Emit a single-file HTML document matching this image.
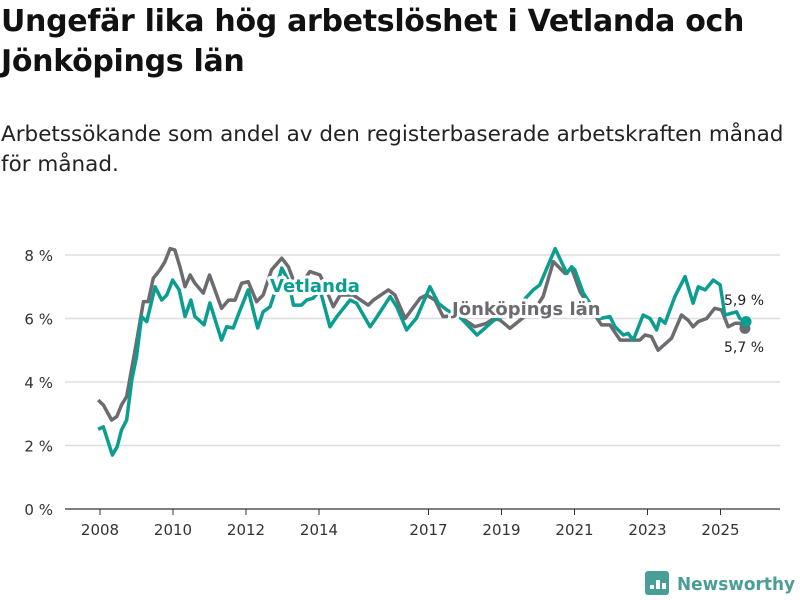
<!DOCTYPE html>
<html><head><meta charset="utf-8"><style>
body{margin:0;background:#fff;width:800px;height:600px;overflow:hidden;font-family:"DejaVu Sans","Liberation Sans",sans-serif;}
#title{position:absolute;left:1px;top:2px;font-size:30px;font-weight:bold;line-height:40px;color:#111;width:795px;letter-spacing:-0.3px}
#sub{position:absolute;left:1px;top:120px;font-size:21.5px;line-height:30px;color:#222;width:798px}
svg{position:absolute;left:0;top:0}
</style></head><body>
<div id="title">Ungefär lika hög arbetslöshet i Vetlanda och Jönköpings län</div>
<div id="sub">Arbetssökande som andel av den registerbaserade arbetskraften månad för månad.</div>
<svg id="chart" width="800" height="600"></svg>
<script>
const vetDates=[2007.95,2008.09,2008.34,2008.47,2008.59,2008.73,2008.87,2009.0,2009.14,2009.28,2009.51,2009.69,2009.83,2009.99,2010.17,2010.33,2010.49,2010.6,2010.71,2010.85,2011.01,2011.33,2011.47,2011.65,2011.84,2012.06,2012.32,2012.47,2012.66,2012.84,2012.98,2013.16,2013.3,2013.52,2013.66,2013.84,2014.03,2014.3,2014.49,2014.85,2015.03,2015.4,2015.53,2015.95,2016.13,2016.4,2016.67,2017.04,2017.27,2017.5,2017.9,2018.33,2018.8,2019.3,2019.87,2020.05,2020.47,2020.79,2020.92,2021.01,2021.24,2021.7,2021.97,2022.11,2022.34,2022.47,2022.61,2022.88,2023.07,2023.25,2023.34,2023.48,2023.75,2024.03,2024.25,2024.39,2024.58,2024.8,2024.99,2025.12,2025.44,2025.53,2025.7];
const vetValues=[2.51,2.59,1.7,1.96,2.49,2.8,4.06,4.8,6.06,5.9,7.0,6.58,6.74,7.21,6.9,6.06,6.58,6.06,5.95,5.8,6.49,5.32,5.74,5.7,6.27,6.9,5.7,6.21,6.37,7.0,7.59,7.2,6.42,6.42,6.58,6.64,6.9,5.74,6.06,6.58,6.48,5.74,5.95,6.69,6.37,5.64,6.01,7.0,6.48,6.27,6.0,5.48,5.95,6.2,6.9,7.06,8.2,7.42,7.63,7.53,6.8,6.0,6.06,5.74,5.48,5.53,5.32,6.11,6.0,5.64,6.0,5.85,6.69,7.32,6.48,7.0,6.9,7.21,7.06,6.11,6.21,6.0,5.9];
const jkpDates=[2007.95,2008.09,2008.32,2008.46,2008.59,2008.73,2008.96,2009.19,2009.32,2009.46,2009.64,2009.78,2009.92,2010.05,2010.19,2010.33,2010.47,2010.6,2010.83,2011.0,2011.33,2011.52,2011.7,2011.88,2012.06,2012.29,2012.47,2012.7,2012.98,2013.16,2013.4,2013.75,2014.03,2014.39,2014.58,2014.94,2015.35,2015.49,2015.9,2016.08,2016.36,2016.77,2016.95,2017.18,2017.4,2017.8,2018.27,2018.59,2018.79,2018.96,2019.23,2019.51,2019.96,2020.14,2020.42,2020.74,2020.92,2021.15,2021.65,2021.74,2021.97,2022.25,2022.79,2022.93,2023.11,2023.29,2023.66,2023.93,2024.11,2024.25,2024.39,2024.62,2024.84,2025.03,2025.21,2025.4,2025.53,2025.67];
const jkpValues=[3.43,3.28,2.8,2.91,3.28,3.54,5.0,6.53,6.53,7.27,7.53,7.79,8.2,8.16,7.63,7.0,7.37,7.11,6.8,7.37,6.32,6.58,6.58,7.11,7.16,6.53,6.74,7.53,7.9,7.63,6.9,7.48,7.37,6.37,6.74,6.74,6.42,6.58,6.9,6.74,6.0,6.64,6.74,6.58,6.06,6.1,5.74,5.85,6.0,5.95,5.69,5.95,6.37,6.69,7.79,7.42,7.58,6.85,5.95,5.8,5.8,5.32,5.32,5.48,5.43,5.0,5.38,6.11,5.95,5.74,5.9,6.0,6.32,6.27,5.74,5.85,5.85,5.69];
const yTicks=[0,2,4,6,8];
const xTicks=[2008,2010,2012,2014,2017,2019,2021,2023,2025];
const endLabels=["5,9 %","5,7 %"];
const NS="http://www.w3.org/2000/svg";
const svg=document.getElementById('chart');
const xs=d=>100+(d-2008)*36.5;
const ys=v=>509-v*31.75;
function mk(t,a,p){const e=document.createElementNS(NS,t);for(const k in a)e.setAttribute(k,a[k]);(p||svg).appendChild(e);return e;}
yTicks.forEach(v=>{
 const g=mk('line',{x1:65,x2:780,y1:ys(v),y2:ys(v),stroke:v===0?'#333':'#ddd','stroke-width':v===0?1.2:1.5});
 
 
 const t=mk('text',{x:53,y:ys(v)+6,'text-anchor':'end','font-size':15,fill:'#333'});
 t.textContent=v+' %';
 
 
});
xTicks.forEach(d=>{
 const l=mk('line',{x1:xs(d),x2:xs(d),y1:509,y2:515,stroke:'#333','stroke-width':1});
 
 
 const t=mk('text',{x:xs(d),y:535,'text-anchor':'middle','font-size':15,fill:'#333'});
 t.textContent=d;
 
 
});
function line(dates,vals,col,name){
 const p=mk('polyline',{points:dates.map((d,i)=>xs(d)+','+ys(vals[i])).join(' '),fill:'none',stroke:col,'stroke-width':3.5,'stroke-linejoin':'round'});
 
 
 const n=dates.length-1;
 const c=mk('circle',{cx:xs(dates[n]),cy:ys(vals[n]),r:5.5,fill:col});
 
 
}
line(jkpDates,jkpValues,'#6d6b70','jonkoping-line');
line(vetDates,vetValues,'#0b9e90','vetlanda-line');
function lab(x,y,txt,col,name){
 const t=mk('text',{x:x,y:y,'font-size':18,'font-weight':'bold',fill:col,stroke:'#fff','stroke-width':6,'paint-order':'stroke','stroke-linejoin':'round'});
 t.textContent=txt;
 
 
}
lab(270,292,'Vetlanda','#0b9e90','vetlanda-label');
lab(452,315,'Jönköpings län','#6d6b70','jonkoping-label');
const e1=mk('text',{x:724,y:305,'font-size':14,fill:'#222'});
e1.textContent=endLabels[0];


const e2=mk('text',{x:724,y:352,'font-size':14,fill:'#222'});
e2.textContent=endLabels[1];


const g=mk('g',{});


mk('rect',{x:645,y:571,width:24,height:24,rx:3,fill:'#4a9e98'},g);
[[650,585,4],[656,580,9],[662,583,6]].forEach(b=>mk('rect',{x:b[0],y:b[1],width:4,height:b[2],fill:'#fff'},g));
const lt=mk('text',{x:677,y:590,'font-size':18,'font-weight':'bold',fill:'#4a9e98',textLength:118,lengthAdjust:'spacingAndGlyphs'},g);
lt.textContent='Newsworthy';
</script>
</body></html>
